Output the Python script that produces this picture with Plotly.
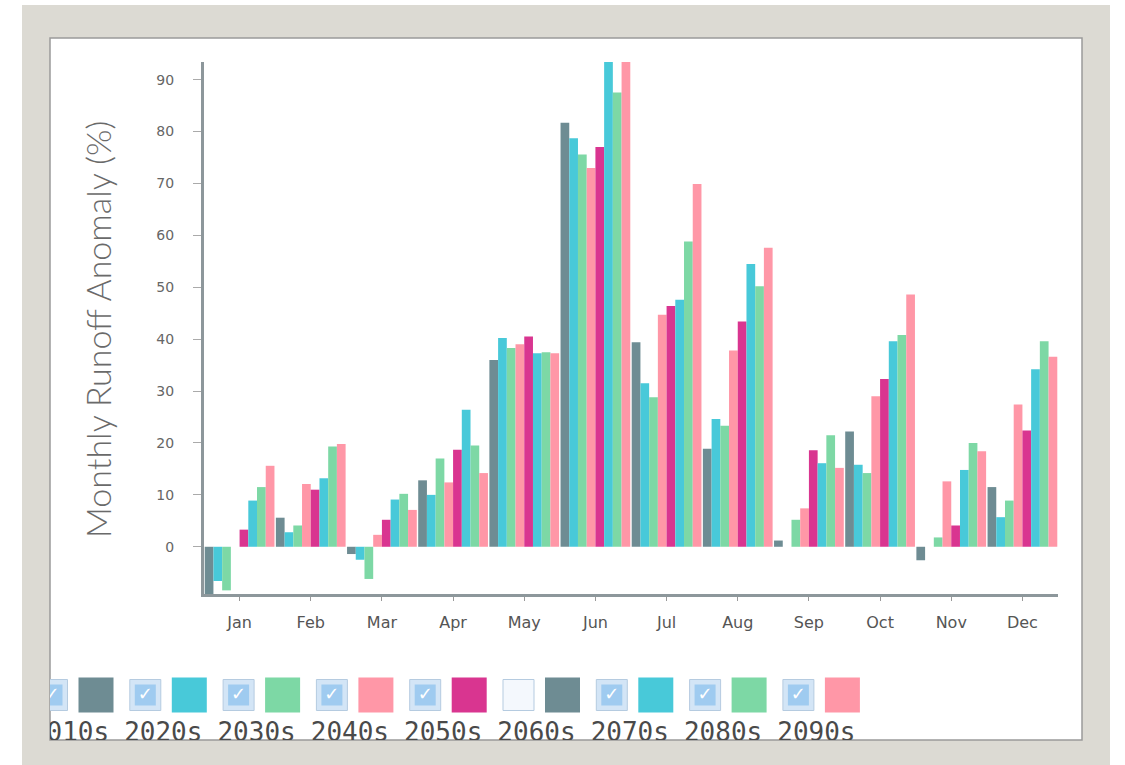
import plotly.graph_objects as go

W, H = 1125, 765

months = ["Jan", "Feb", "Mar", "Apr", "May", "Jun", "Jul", "Aug", "Sep", "Oct", "Nov", "Dec"]

s2010 = [-9.5, 5.6, -1.4, 12.8, 36.0, 81.7, 39.4, 18.9, 1.2, 22.2, -2.6, 11.5]
s2020 = [-6.6, 2.8, -2.5, 10.0, 40.2, 78.7, 31.5, 24.6, 0.0, 15.8, 0.0, 5.7]
s2030 = [-8.4, 4.1, -6.2, 17.0, 38.3, 75.6, 28.8, 23.3, 5.2, 14.2, 1.8, 8.9]
s2040 = [0.0, 12.1, 2.3, 12.4, 39.0, 73.0, 44.7, 37.8, 7.4, 29.0, 12.6, 27.4]
s2050 = [3.3, 11.0, 5.2, 18.7, 40.5, 77.0, 46.4, 43.4, 18.6, 32.3, 4.1, 22.4]
s2070 = [8.9, 13.2, 9.1, 26.4, 37.3, 95.0, 47.6, 54.5, 16.1, 39.6, 14.8, 34.2]
s2080 = [11.5, 19.3, 10.2, 19.5, 37.5, 87.5, 58.8, 50.2, 21.5, 40.8, 20.0, 39.6]
s2090 = [15.6, 19.8, 7.1, 14.2, 37.3, 95.0, 69.9, 57.6, 15.2, 48.6, 18.4, 36.6]

legend_names = ["2010s", "2020s", "2030s", "2040s", "2050s", "2060s", "2070s", "2080s", "2090s"]
legend_checked = [True, True, True, True, True, False, True, True, True]

GRAY = "#6e8c93"
CYAN = "#48c9d9"
GREEN = "#7dd8a5"
PINK = "#ff97a7"
MAG = "#d93590"
legend_colors = [GRAY, CYAN, GREEN, PINK, MAG, GRAY, CYAN, GREEN, PINK]

series = [
    ("2010s", s2010, GRAY),
    ("2020s", s2020, CYAN),
    ("2030s", s2030, GREEN),
    ("2040s", s2040, PINK),
    ("2050s", s2050, MAG),
    ("2070s", s2070, CYAN),
    ("2080s", s2080, GREEN),
    ("2090s", s2090, PINK),
]

fig = go.Figure()
for name, vals, col in series:
    fig.add_trace(go.Bar(x=months, y=vals, name=name, marker=dict(color=col, line=dict(width=0)),
                         xaxis="x", yaxis="y", showlegend=False))

# custom legend row (checkbox + swatch + label), drawn in a pixel-unit helper subplot
step = 93.3
cb_x = [52 + step * i for i in range(len(legend_names))]
sw_x = [96 + step * i for i in range(len(legend_names))]
lb_x = [70 + step * i for i in range(len(legend_names))]
row_y = 695
fig.add_trace(go.Scatter(x=cb_x, y=[row_y] * len(cb_x), mode="markers", xaxis="x2", yaxis="y2",
                         marker=dict(symbol="square", size=31,
                                     color=["#d3e5f6" if c else "#f4f8fd" for c in legend_checked],
                                     line=dict(color="#b5cbe0", width=1)),
                         showlegend=False, hoverinfo="skip", cliponaxis=True))
chk_x = [x for x, c in zip(cb_x, legend_checked) if c]
fig.add_trace(go.Scatter(x=chk_x, y=[row_y] * len(chk_x), mode="markers+text", xaxis="x2", yaxis="y2",
                         marker=dict(symbol="square", size=21, color="#9fcbf0", line=dict(width=0)),
                         text=["✓"] * len(chk_x), textposition="middle center",
                         textfont=dict(color="white", size=18, family="DejaVu Sans"),
                         showlegend=False, hoverinfo="skip", cliponaxis=True))
fig.add_trace(go.Scatter(x=sw_x, y=[row_y] * len(sw_x), mode="markers", xaxis="x2", yaxis="y2",
                         marker=dict(symbol="square", size=35, color=legend_colors, line=dict(width=0)),
                         showlegend=False, hoverinfo="skip", cliponaxis=True))
fig.add_trace(go.Scatter(x=lb_x, y=[734] * len(lb_x), mode="text", xaxis="x2", yaxis="y2",
                         text=legend_names, textposition="middle center",
                         textfont=dict(color="#4a4a4a", size=26, family="DejaVu Sans Mono"),
                         showlegend=False, hoverinfo="skip", cliponaxis=True))

# plot area in pixels
L, R, T, B = 204, 1058, 62, 594
Y0, Y1 = -9.1, 93.4

shapes = [
    dict(type="rect", xref="paper", yref="paper", x0=22 / W, x1=1110 / W, y0=0, y1=1 - 5 / H,
         fillcolor="#dcdad3", line=dict(width=0), layer="below"),
    dict(type="rect", xref="paper", yref="paper", x0=50 / W, x1=1082 / W, y0=1 - 740 / H, y1=1 - 38 / H,
         fillcolor="#ffffff", line=dict(color="#9a9a9a", width=1.5), layer="below"),
]

fig.update_layout(
    width=W, height=H,
    margin=dict(l=0, r=0, t=0, b=0),
    paper_bgcolor="#ffffff",
    plot_bgcolor="rgba(0,0,0,0)",
    barmode="group", bargap=0.02, bargroupgap=0.0,
    shapes=shapes,
    xaxis=dict(domain=[L / W, R / W], anchor="y", type="category", range=[-0.5, 11.5],
               showline=True, linecolor="#8d979b", linewidth=3, ticks="outside", ticklen=4,
               tickcolor="#999", showgrid=False, zeroline=False, fixedrange=True,
               tickfont=dict(family="DejaVu Sans", size=16, color="#555"), ticklabelstandoff=8),
    yaxis=dict(domain=[1 - B / H, 1 - T / H], anchor="x", range=[Y0, Y1], dtick=10, tick0=0,
               showline=True, linecolor="#8d979b", linewidth=3, ticks="outside", ticklen=8,
               tickcolor="#aaa", showgrid=False, zeroline=False, fixedrange=True,
               tickfont=dict(family="DejaVu Sans", size=14, color="#666"), ticklabelstandoff=16),
    xaxis2=dict(domain=[50 / W, 1082 / W], anchor="y2", range=[50, 1082], visible=False, fixedrange=True),
    yaxis2=dict(domain=[1 - 740 / H, 1 - 664 / H], anchor="x2", range=[740, 664], visible=False, fixedrange=True),
    annotations=[
        dict(text="Monthly Runoff Anomaly (%)", xref="paper", yref="paper", x=97 / W, y=1 - 330 / H,
             textangle=-90, showarrow=False, xanchor="center", yanchor="middle",
             font=dict(family="Lato", size=34, color="#6a6a6a", weight=300)),
    ],
)

fig.write_html("out.html", config={"displayModeBar": False},
               post_script="document.body.style.margin='0';")
